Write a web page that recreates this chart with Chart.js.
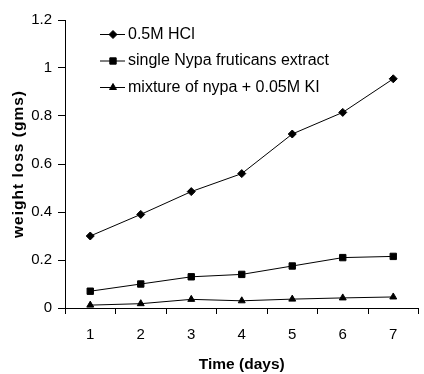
<!DOCTYPE html>
<html>
<head>
<meta charset="utf-8">
<script src="https://cdn.jsdelivr.net/npm/chart.js@4"></script>
<style>
  html, body { margin: 0; padding: 0; background: #fff; }
  #wrap { width: 424px; height: 374px; position: relative; }
</style>
</head>
<body>
<div id="wrap"><canvas id="chart" width="424" height="374"></canvas></div>
<script>
  // Data
  const days = ["1", "2", "3", "4", "5", "6", "7"];
  const hcl = [0.30, 0.39, 0.485, 0.56, 0.725, 0.815, 0.955];
  const nypa = [0.07, 0.10, 0.13, 0.14, 0.175, 0.21, 0.215];
  const mixture = [0.012, 0.018, 0.036, 0.03, 0.037, 0.042, 0.046];
  const yTicks = [0, 0.2, 0.4, 0.6, 0.8, 1, 1.2];

  const font = "'Liberation Sans', Arial, sans-serif";

  const series = [
    { label: "0.5M HCl", data: hcl, pointStyle: "rectRot", pointRadius: 4 },
    { label: "single Nypa fruticans extract", data: nypa, pointStyle: "rect", pointRadius: 4.5 },
    { label: "mixture of nypa + 0.05M KI", data: mixture, pointStyle: "triangle", pointRadius: 4 }
  ];

  // legend drawn inside the plot, top left, plus the spaced-out y title
  const extras = {
    id: "extras",
    afterDraw(chart) {
      const ctx = chart.ctx;
      ctx.save();
      series.forEach((s, i) => {
        const y = 34.5 + i * 26.5;
        ctx.strokeStyle = "#000";
        ctx.lineWidth = 1;
        ctx.beginPath();
        ctx.moveTo(100, y);
        ctx.lineTo(125, y);
        ctx.stroke();
        ctx.fillStyle = "#000";
        Chart.helpers.drawPoint(ctx, { pointStyle: s.pointStyle, radius: s.pointRadius, borderWidth: 1 }, 113, y);
        ctx.fillStyle = "#000";
        ctx.font = "16px " + font;
        ctx.textBaseline = "middle";
        ctx.textAlign = "left";
        ctx.fillText(s.label, 128, y);
      });
      const area = chart.chartArea;
      ctx.translate(19, (area.top + area.bottom) / 2);
      ctx.rotate(-Math.PI / 2);
      ctx.font = "bold 15.5px " + font;
      ctx.letterSpacing = "1px";
      ctx.textAlign = "center";
      ctx.textBaseline = "middle";
      ctx.fillStyle = "#000";
      ctx.fillText("weight loss (gms)", 0, 0);
      ctx.restore();
    }
  };

  new Chart(document.getElementById("chart"), {
    type: "line",
    data: {
      labels: days,
      datasets: series.map(s => ({
        label: s.label,
        data: s.data,
        borderColor: "#000",
        backgroundColor: "#000",
        borderWidth: 1,
        pointStyle: s.pointStyle,
        pointRadius: s.pointRadius,
        pointBorderWidth: 1,
        tension: 0
      }))
    },
    options: {
      responsive: false,
      animation: false,
      layout: { padding: { top: 20, right: 0, left: 0, bottom: 0 } },
      plugins: {
        legend: { display: false },
        tooltip: { enabled: false }
      },
      scales: {
        x: {
          offset: true,
          grid: { offset: true, drawOnChartArea: false, color: "#000", tickLength: 6 },
          border: { color: "#000", width: 1 },
          ticks: { color: "#000", font: { family: font, size: 15 }, padding: 12, maxRotation: 0 },
          title: { display: true, text: "Time (days)", color: "#000", font: { family: font, size: 15.5, weight: "bold", lineHeight: 1 }, padding: { top: 0, bottom: 2 } },
          afterFit(scale) { scale.height = 66; }
        },
        y: {
          min: 0,
          max: 1.2,
          afterBuildTicks(scale) { scale.ticks = yTicks.map(v => ({ value: v })); },
          grid: { drawOnChartArea: false, color: "#000", tickLength: 7 },
          border: { color: "#000", width: 1 },
          ticks: { color: "#000", font: { family: font, size: 15 }, padding: 6, callback: v => String(v) },
          title: { display: false },
          afterFit(scale) { scale.width = 65; }
        }
      }
    },
    plugins: [extras]
  });
</script>
</body>
</html>
